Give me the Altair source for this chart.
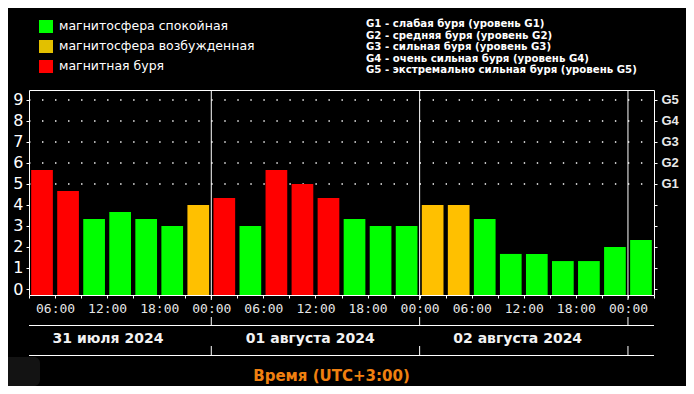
import altair as alt
import pandas as pd

# ---------------- data ----------------
start_hours = [3, 6, 9, 12, 15, 18, 21,
               24, 27, 30, 33, 36, 39, 42, 45,
               48, 51, 54, 57, 60, 63, 66, 69,
               72]
kp_values = [5.67, 4.67, 3.33, 3.67, 3.33, 3.0, 4.0,
             4.33, 3.0, 5.67, 5.0, 4.33, 3.33, 3.0, 3.0,
             4.0, 4.0, 3.33, 1.67, 1.67, 1.33, 1.33, 2.0,
             2.33]
status = ["storm", "storm", "quiet", "quiet", "quiet", "quiet", "active",
          "storm", "quiet", "storm", "storm", "storm", "quiet", "quiet", "quiet",
          "active", "active", "quiet", "quiet", "quiet", "quiet", "quiet", "quiet",
          "quiet"]
status_keys = ["quiet", "active", "storm"]
status_names = ["магнитосфера спокойная", "магнитосфера возбужденная", "магнитная буря"]
bar_colors = ["#00ff00", "#ffc000", "#ff0000"]
legend_colors = ["#00ff00", "#e2c000", "#ff0000"]
g_lines = ["G1 - слабая буря (уровень G1)",
           "G2 - средняя буря (уровень G2)",
           "G3 - сильная буря (уровень G3)",
           "G4 - очень сильная буря (уровень G4)",
           "G5 - экстремально сильная буря (уровень G5)"]
g_levels = [5, 6, 7, 8, 9]
y_ticks = [0, 1, 2, 3, 4, 5, 6, 7, 8, 9]
x_ticks = list(range(3, 76, 3))
day_breaks = [24, 48, 72]
day_labels = ["31 июля 2024", "01 августа 2024", "02 августа 2024"]
day_label_hours = [12.1, 35.4, 59.3]
x_title = "Время (UTC+3:00)"

# ---------------- layout ----------------
W, H = 625, 205
XDOM = [3, 75]
YDOM = [-0.2857, 9.476]


def xs():
    return alt.Scale(domain=XDOM, nice=False, zero=False)


def ys():
    return alt.Scale(domain=YDOM, nice=False, zero=False)


bars_df = pd.DataFrame({"t": start_hours, "kp": kp_values, "status": status})
one = alt.Data(values=[{}])

glow = alt.Chart(one).mark_rect(
    fill=alt.RadialGradient(gradient="radial", x1=0.58, y1=0.0, r1=0.0,
                            x2=0.58, y2=0.0, r2=0.4,
                            stops=[alt.GradientStop(color="#280b38", offset=0),
                                   alt.GradientStop(color="#100518", offset=0.5),
                                   alt.GradientStop(color="#000000", offset=1)])
).encode(x=alt.value(-21), x2=alt.value(657), y=alt.value(-82), y2=alt.value(-1))

corner_box = alt.Chart(one).mark_rect(fill="#131313", cornerRadius=6).encode(
    x=alt.value(-30), x2=alt.value(11), y=alt.value(267), y2=alt.value(296))

grid = alt.Chart(pd.DataFrame({"lvl": g_levels})).mark_rule(
    color="white", strokeWidth=1.4, strokeDash=[1.4, 11.62]
).encode(
    x=alt.value(0), x2=alt.value(W),
    y=alt.Y("lvl:Q", scale=ys(), axis=None),
)

right_axis = alt.Chart(pd.DataFrame({"v": y_ticks})).mark_point(opacity=0).encode(
    y=alt.Y("v:Q", scale=ys(), title=None,
            axis=alt.Axis(orient="right", values=y_ticks, tickSize=3, tickColor="white",
                          domain=False, grid=False, labelPadding=4, zindex=2,
                          labelExpr="datum.value >= 5 ? 'G' + (datum.value - 4) : ''",
                          labelFont="Liberation Sans", labelFontWeight="bold",
                          labelFontSize=13, labelColor="#e8e8e8",
                          labelBaseline="middle", labelOverlap=False)),
    x=alt.value(W),
)

x_axis = alt.Chart(pd.DataFrame({"v": x_ticks})).mark_point(opacity=0).encode(
    x=alt.X("v:Q", scale=xs(), title=x_title,
            axis=alt.Axis(values=x_ticks, tickSize=3, tickColor="white", domain=False,
                          grid=False, labelPadding=4, labelFlush=False, labelOverlap=False,
                          zindex=2,
                          labelExpr="datum.value % 6 === 0 ? ((datum.value % 24) < 10 ? '0' : '') + (datum.value % 24) + ':00' : ''",
                          labelFont="DejaVu Sans Mono", labelFontSize=13,
                          labelColor="#e6e6e6",
                          titleFont="DejaVu Sans", titleFontSize=15, titleFontWeight="bold",
                          titleColor="#f08010", titleX=302, titleY=80,
                          titleBaseline="middle", titleAlign="center")),
    y=alt.value(H),
)

bars = alt.Chart(bars_df).transform_calculate(
    xa="datum.t + 0.25", xb="datum.t + 2.75"
).mark_bar().encode(
    x=alt.X("xa:Q", scale=xs(), axis=None),
    x2="xb:Q",
    y=alt.Y("kp:Q", scale=ys(), title=None,
            axis=alt.Axis(orient="left", values=y_ticks, tickSize=3, tickColor="white",
                          domain=False, grid=False, labelPadding=3, zindex=2,
                          labelFont="DejaVu Sans", labelFontSize=16, labelColor="white",
                          labelBaseline="middle", labelOverlap=False)),
    y2=alt.value(H),
    color=alt.Color("status:N", scale=alt.Scale(domain=status_keys, range=bar_colors),
                    legend=None),
)

breaks_df = pd.DataFrame({"b": day_breaks})
seps = alt.Chart(breaks_df).mark_rule(color="white").encode(
    x=alt.X("b:Q", scale=xs(), axis=None), y=alt.value(0), y2=alt.value(210))
seps_mid = alt.Chart(breaks_df).mark_rule(color="white").encode(
    x=alt.X("b:Q", scale=xs(), axis=None), y=alt.value(227), y2=alt.value(235))
seps_low = alt.Chart(breaks_df).mark_rule(color="white").encode(
    x=alt.X("b:Q", scale=xs(), axis=None), y=alt.value(256), y2=alt.value(265))
hline1 = alt.Chart(one).mark_rule(color="white").encode(
    x=alt.value(0), x2=alt.value(W), y=alt.value(235.5))
hline2 = alt.Chart(one).mark_rule(color="white").encode(
    x=alt.value(0), x2=alt.value(W), y=alt.value(265.5))

days = alt.Chart(pd.DataFrame({"h": day_label_hours, "d": day_labels})).mark_text(
    font="DejaVu Sans", fontSize=14, fontWeight="bold", color="#f2f2f2",
    baseline="middle", align="center"
).encode(x=alt.X("h:Q", scale=xs(), axis=None), y=alt.value(249), text="d:N")

layers = [glow, corner_box, grid, bars, right_axis, x_axis, seps, seps_mid, seps_low,
          hline1, hline2, days]

# legend (top-left)
for i, (name, col) in enumerate(zip(status_names, legend_colors)):
    layers.append(alt.Chart(pd.DataFrame({"c": [col]})).mark_rect(color=col).encode(
        x=alt.value(10), x2=alt.value(24), y=alt.value(-70 + 20 * i), y2=alt.value(-57 + 20 * i)))
    layers.append(alt.Chart(pd.DataFrame({"n": [name]})).mark_text(
        font="DejaVu Sans", fontSize=12.5, color="white", align="left", baseline="middle"
    ).encode(x=alt.value(30), y=alt.value(-64 + 20 * i), text="n:N"))

# G-scale legend (top-right)
for i, line in enumerate(g_lines):
    layers.append(alt.Chart(pd.DataFrame({"g": [line]})).mark_text(
        font="DejaVu Sans", fontSize=10.2, fontWeight="bold", color="white",
        align="left", baseline="middle"
    ).encode(x=alt.value(337), y=alt.value(-66 + 11.6 * i), text="g:N"))

chart = alt.layer(*layers).resolve_scale(x="independent", y="independent").properties(
    width=W, height=H,
    autosize=alt.AutoSizeParams(type="none"),
    padding={"left": 21, "top": 82, "right": 32, "bottom": 91},
    background="black",
    usermeta={"embedOptions": {"defaultStyle": "body{background:#000;}"}},
).configure_view(stroke="white", strokeWidth=1, fill=None)

chart.save("out.html", embed_options={"renderer": "svg", "actions": False})
